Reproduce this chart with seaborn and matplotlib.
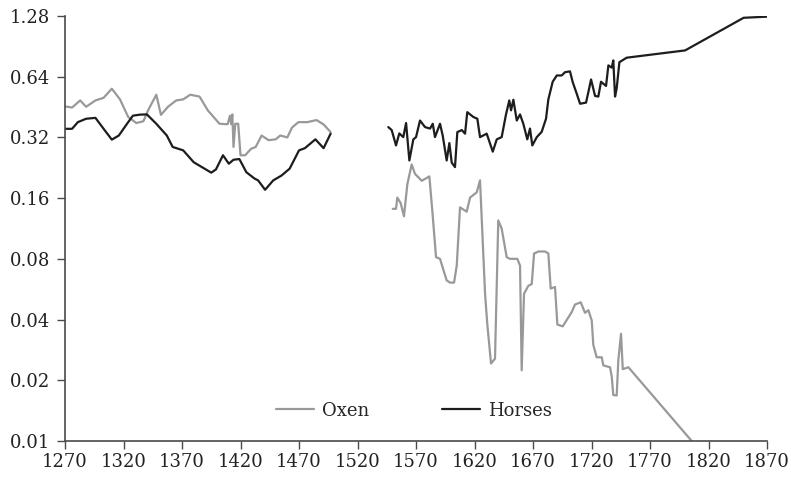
import numpy as np
import pandas as pd
import matplotlib
matplotlib.use("Agg")
import matplotlib.pyplot as plt
import seaborn as sns

# Horses, first run of observations
horses_early_years = [1270, 1276, 1281, 1288, 1296, 1303, 1310, 1316, 1323, 1328, 1334, 1340,
                      1348, 1357, 1362, 1371, 1380, 1387, 1395, 1399, 1405, 1410, 1414, 1419,
                      1425, 1432, 1435, 1441, 1448, 1455, 1462, 1470, 1475, 1484, 1491, 1497]
horses_early_values = [0.353, 0.353, 0.381, 0.396, 0.400, 0.353, 0.312, 0.327, 0.374, 0.410, 0.415, 0.416,
                       0.374, 0.327, 0.287, 0.276, 0.241, 0.228, 0.214, 0.222, 0.261, 0.237, 0.248, 0.250,
                       0.215, 0.200, 0.196, 0.176, 0.196, 0.207, 0.224, 0.276, 0.283, 0.313, 0.283, 0.334]

# Horses, second run of observations
horses_late_years = [1546.3, 1549.2, 1552.9, 1555.7, 1559.1, 1561.5, 1564.3, 1567.7, 1570.0, 1573.4,
                     1577.7, 1582.0, 1584.3, 1586.2, 1590.5, 1592.8, 1596.2, 1598.5, 1600.5, 1603.3,
                     1605.3, 1609.1, 1611.9, 1613.8, 1619.0, 1622.4, 1624.7, 1630.4, 1635.6, 1639.0,
                     1643.2, 1646.9, 1649.7, 1651.2, 1653.2, 1656.1, 1658.9, 1661.7, 1665.1, 1667.4,
                     1669.4, 1673.2, 1677.4, 1681.1, 1683.1, 1686.8, 1690.3, 1694.5, 1697.4, 1701.6,
                     1703.9, 1707.4, 1710.2, 1715.3, 1717.3, 1719.6, 1723.0, 1725.8, 1728.1, 1732.4,
                     1734.4, 1737.3, 1738.6, 1740.1, 1741.5, 1743.8, 1750.0, 1800.0, 1850.0, 1870.0]
horses_late_values = [0.360, 0.348, 0.292, 0.335, 0.321, 0.377, 0.246, 0.313, 0.321, 0.388,
                      0.360, 0.354, 0.374, 0.321, 0.374, 0.327, 0.246, 0.300, 0.240, 0.228,
                      0.340, 0.348, 0.334, 0.427, 0.404, 0.396, 0.321, 0.334, 0.272, 0.313,
                      0.321, 0.416, 0.488, 0.436, 0.492, 0.388, 0.416, 0.374, 0.313, 0.354,
                      0.292, 0.321, 0.341, 0.396, 0.494, 0.604, 0.649, 0.649, 0.674, 0.680,
                      0.602, 0.526, 0.470, 0.476, 0.537, 0.620, 0.514, 0.510, 0.604, 0.576,
                      0.728, 0.710, 0.771, 0.510, 0.560, 0.755, 0.795, 0.864, 1.254, 1.270]

# Oxen, first run of observations
oxen_early_years = [1270, 1276, 1283, 1288, 1296, 1303, 1310, 1317, 1324, 1331, 1337, 1341,
                    1348, 1352, 1358, 1365, 1371, 1377, 1385, 1392, 1397, 1402, 1409, 1411,
                    1412, 1413, 1414, 1415.5, 1418, 1420, 1424, 1429, 1433, 1438, 1444, 1450,
                    1454, 1460, 1464, 1469.5, 1477, 1485, 1491, 1497]
oxen_early_values = [0.456, 0.450, 0.488, 0.454, 0.488, 0.503, 0.558, 0.494, 0.404, 0.377, 0.385, 0.436,
                     0.521, 0.414, 0.454, 0.488, 0.494, 0.521, 0.510, 0.436, 0.404, 0.374, 0.372, 0.410,
                     0.372, 0.416, 0.287, 0.374, 0.374, 0.261, 0.261, 0.281, 0.287, 0.327, 0.310, 0.313,
                     0.327, 0.320, 0.358, 0.381, 0.381, 0.390, 0.371, 0.340]

# Oxen, second run of observations
oxen_late_years = [1550.1, 1552.9, 1554.0, 1556.9, 1559.7, 1562.6, 1566.3, 1569.1, 1572.0, 1574.9,
                   1581.4, 1583.9, 1587.1, 1590.5, 1596.2, 1599.1, 1602.5, 1604.8, 1607.6, 1613.3,
                   1616.2, 1621.9, 1624.7, 1629.0, 1630.9, 1634.1, 1637.5, 1640.3, 1643.2, 1647.5,
                   1650.3, 1656.6, 1658.9, 1660.3, 1662.3, 1666.0, 1668.9, 1670.9, 1674.6, 1680.3,
                   1683.1, 1685.1, 1688.8, 1690.8, 1695.4, 1700.2, 1703.1, 1705.9, 1710.8, 1714.4,
                   1717.3, 1720.2, 1721.5, 1724.4, 1728.7, 1730.1, 1735.8, 1737.3, 1738.6, 1741.5,
                   1742.9, 1745.2, 1746.7, 1751.5, 1805.6]
oxen_late_values = [0.1416, 0.1416, 0.161, 0.151, 0.130, 0.188, 0.235, 0.211, 0.203, 0.195,
                    0.205, 0.139, 0.0815, 0.080, 0.0625, 0.061, 0.061, 0.074, 0.144, 0.137,
                    0.161, 0.171, 0.196, 0.0537, 0.038, 0.0242, 0.0256, 0.124, 0.113, 0.0815,
                    0.080, 0.080, 0.074, 0.0224, 0.0537, 0.0588, 0.060, 0.085, 0.087, 0.087,
                    0.085, 0.057, 0.058, 0.0378, 0.037, 0.041, 0.0436, 0.0475, 0.0487, 0.0432,
                    0.0445, 0.0395, 0.030, 0.026, 0.026, 0.0237, 0.0232, 0.0208, 0.0169, 0.0168,
                    0.0251, 0.034, 0.0227, 0.0232, 0.010]

y_ticks = [0.01, 0.02, 0.04, 0.08, 0.16, 0.32, 0.64, 1.28]
y_tick_labels = ["0.01", "0.02", "0.04", "0.08", "0.16", "0.32", "0.64", "1.28"]
x_ticks = list(range(1270, 1871, 50))


def frame(series, segment, years, values):
    return pd.DataFrame({"year": years, "value": values,
                         "series": series, "segment": segment})


df = pd.concat([
    frame("Oxen", "Oxen-1", oxen_early_years, oxen_early_values),
    frame("Oxen", "Oxen-2", oxen_late_years, oxen_late_values),
    frame("Horses", "Horses-1", horses_early_years, horses_early_values),
    frame("Horses", "Horses-2", horses_late_years, horses_late_values),
], ignore_index=True)

sns.set_style("ticks")
plt.rcParams["font.family"] = ["DejaVu Serif"]
plt.rcParams["font.size"] = 13

axis_color = "#4a4a4a"
fig = plt.figure(figsize=(7.91, 4.80), dpi=100)
ax = fig.add_axes([0.0822, 0.0813, 0.8875, 0.8854])

sns.lineplot(data=df, x="year", y="value", hue="series", units="segment",
             estimator=None, hue_order=["Oxen", "Horses"],
             palette={"Oxen": "#999999", "Horses": "#1e1c1c"},
             linewidth=1.6, sort=False, ax=ax)

ax.set_yscale("log", base=2)
ax.set_ylim(0.01, 1.28)
ax.set_xlim(1270, 1870)
ax.set_yticks(y_ticks)
ax.set_yticklabels(y_tick_labels)
ax.yaxis.set_minor_locator(matplotlib.ticker.NullLocator())
ax.set_xticks(x_ticks)
ax.set_xticklabels([str(t) for t in x_ticks])
ax.set_xlabel("")
ax.set_ylabel("")

sns.despine(ax=ax)
for side in ("left", "bottom"):
    ax.spines[side].set_color(axis_color)
    ax.spines[side].set_linewidth(1.2)
ax.tick_params(axis="both", colors=axis_color, labelcolor="#222222",
               length=5.5, width=1.0, labelsize=13)
ax.tick_params(axis="y", pad=5)
ax.tick_params(axis="x", pad=3)

leg = ax.legend(loc="center", bbox_to_anchor=(0.497, 0.071), ncol=2, frameon=False,
                handlelength=2.1, handletextpad=0.45, columnspacing=4.0,
                fontsize=13, borderaxespad=0)
for line in leg.get_lines():
    line.set_linewidth(1.6)

fig.savefig("out.png", dpi=100)
